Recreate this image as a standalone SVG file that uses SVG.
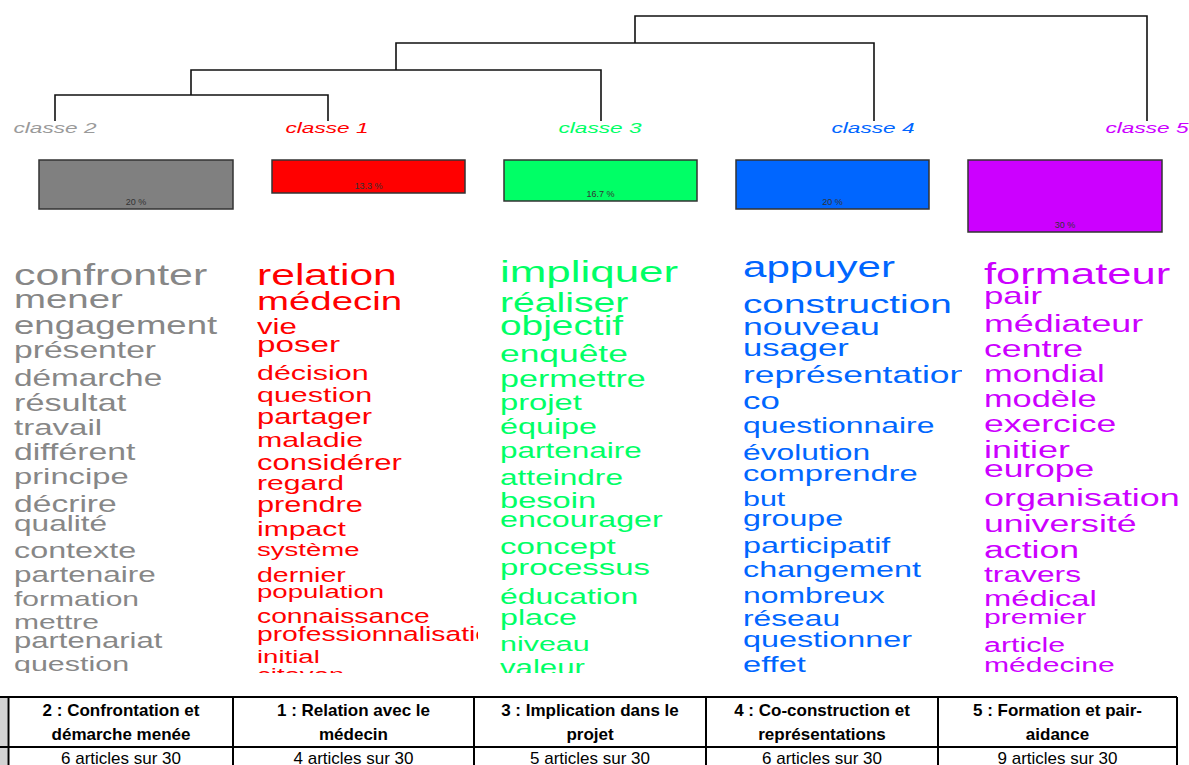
<svg xmlns="http://www.w3.org/2000/svg" width="1189" height="765" viewBox="0 0 1189 765">
<style>
.ln{stroke:#111;stroke-width:1.6;fill:none}
.cl{font-family:"Liberation Sans",Arial,sans-serif;font-style:italic;font-size:15px;text-anchor:middle}
.bar{stroke:#333;stroke-width:1.5}
.pct{font-family:"Liberation Sans",Arial,sans-serif;font-size:9px;fill:#333;text-anchor:middle}
.w{font-family:"Liberation Sans",Arial,sans-serif}
.tl{stroke:#000;stroke-width:2;fill:none}
.th{font-family:"Liberation Sans",Arial,sans-serif;font-weight:bold;font-size:17px;fill:#000;text-anchor:middle}
.td{font-family:"Liberation Sans",Arial,sans-serif;font-size:17px;fill:#000;text-anchor:middle}
</style>
<defs>
<clipPath id="c1"><rect x="0" y="245" width="245" height="428"/></clipPath>
<clipPath id="c2"><rect x="245" y="245" width="233" height="428"/></clipPath>
<clipPath id="c3"><rect x="490" y="245" width="240" height="428"/></clipPath>
<clipPath id="c4"><rect x="730" y="245" width="232" height="428"/></clipPath>
<clipPath id="c5"><rect x="970" y="245" width="219" height="428"/></clipPath>
</defs>
<rect width="1189" height="765" fill="#fff"/>

<g id="connectors">
<path class="ln" d="M635 43V16H1147V121"/>
<path class="ln" d="M396 70V43H874V121"/>
<path class="ln" d="M191 95V70H601V121"/>
<path class="ln" d="M55 121V95H328V121"/>
</g>

<g id="classe2"><text class="cl" x="55" y="133" fill="#9a9a9a" textLength="83" lengthAdjust="spacingAndGlyphs">classe 2</text></g>
<g id="classe1"><text class="cl" x="327" y="133" fill="#ff0000" textLength="83" lengthAdjust="spacingAndGlyphs">classe 1</text></g>
<g id="classe3"><text class="cl" x="600" y="133" fill="#00ff66" textLength="83" lengthAdjust="spacingAndGlyphs">classe 3</text></g>
<g id="classe4"><text class="cl" x="873" y="133" fill="#0066ff" textLength="83" lengthAdjust="spacingAndGlyphs">classe 4</text></g>
<g id="classe5"><text class="cl" x="1147" y="133" fill="#cc00ff" textLength="83" lengthAdjust="spacingAndGlyphs">classe 5</text></g>

<g id="bar2"><rect class="bar" x="39" y="160" width="194" height="49" fill="#808080"/><text class="pct" x="136" y="205">20 %</text></g>
<g id="bar1"><rect class="bar" x="272" y="160" width="193" height="33" fill="#ff0000"/><text class="pct" x="368.5" y="189">13.3 %</text></g>
<g id="bar3"><rect class="bar" x="504" y="160" width="193" height="41" fill="#00ff66"/><text class="pct" x="600.5" y="197">16.7 %</text></g>
<g id="bar4"><rect class="bar" x="736" y="160" width="193" height="49" fill="#0066ff"/><text class="pct" x="832.5" y="205">20 %</text></g>
<g id="bar5"><rect class="bar" x="968" y="160" width="194" height="72" fill="#cc00ff"/><text class="pct" x="1065" y="228">30 %</text></g>

<g id="words2" clip-path="url(#c1)">
<g transform="translate(14 0) scale(1.45 1)" class="w" fill="#878787">
<text y="285" font-size="29.6">confronter</text>
<text y="308" font-size="26.5">mener</text>
<text y="334" font-size="25.2">engagement</text>
<text y="358.5" font-size="23.2">présenter</text>
<text y="386" font-size="23">démarche</text>
<text y="411.5" font-size="23.6">résultat</text>
<text y="435" font-size="22.8">travail</text>
<text y="460.5" font-size="23.3">différent</text>
<text y="484" font-size="22.6">principe</text>
<text y="512" font-size="23.2">décrire</text>
<text y="531.5" font-size="21.8">qualité</text>
<text y="558.5" font-size="22.3">contexte</text>
<text y="582" font-size="21.7">partenaire</text>
<text y="606" font-size="20.7">formation</text>
<text y="629" font-size="20.7">mettre</text>
<text y="648.5" font-size="21.4">partenariat</text>
<text y="671" font-size="21">question</text>
</g></g>

<g id="words1" clip-path="url(#c2)">
<g transform="translate(257 0) scale(1.45 1)" class="w" fill="#ff0000">
<text y="285" font-size="29.4">relation</text>
<text y="310" font-size="26.5">médecin</text>
<text y="334" font-size="21.5">vie</text>
<text y="351.7" font-size="22.9">poser</text>
<text y="380" font-size="21">décision</text>
<text y="401.7" font-size="21">question</text>
<text y="424" font-size="21.3">partager</text>
<text y="446.7" font-size="20.9">maladie</text>
<text y="470" font-size="21.4">considérer</text>
<text y="490" font-size="20.8">regard</text>
<text y="511.7" font-size="21.2">prendre</text>
<text y="536" font-size="20.8">impact</text>
<text y="556" font-size="19">système</text>
<text y="581.7" font-size="19.7">dernier</text>
<text y="598.3" font-size="19">population</text>
<text y="622.7" font-size="19.5">connaissance</text>
<text y="640.7" font-size="19.5">professionnalisation</text>
<text y="663.3" font-size="19">initial</text>
<text y="681.5" font-size="19">citoyen</text>
</g></g>

<g id="words3" clip-path="url(#c3)">
<g transform="translate(500 0) scale(1.45 1)" class="w" fill="#00ff66">
<text y="281.7" font-size="30.3">impliquer</text>
<text y="311.7" font-size="27">réaliser</text>
<text y="335" font-size="26.8">objectif</text>
<text y="361.7" font-size="24.4">enquête</text>
<text y="386.7" font-size="23.5">permettre</text>
<text y="410.5" font-size="22.6">projet</text>
<text y="434.5" font-size="22.3">équipe</text>
<text y="458.3" font-size="21.7">partenaire</text>
<text y="485" font-size="21.8">atteindre</text>
<text y="508.3" font-size="22.5">besoin</text>
<text y="526.7" font-size="22.2">encourager</text>
<text y="554" font-size="22.8">concept</text>
<text y="575" font-size="22.7">processus</text>
<text y="604" font-size="22">éducation</text>
<text y="625.5" font-size="22.2">place</text>
<text y="651" font-size="21">niveau</text>
<text y="675" font-size="21.5">valeur</text>
</g></g>

<g id="words4" clip-path="url(#c4)">
<g transform="translate(743 0) scale(1.45 1)" class="w" fill="#0066ff">
<text y="277.5" font-size="29">appuyer</text>
<text y="312.7" font-size="26.7">construction</text>
<text y="335" font-size="24.6">nouveau</text>
<text y="356" font-size="23.9">usager</text>
<text y="383.5" font-size="24.4">représentation</text>
<text y="409.5" font-size="24">co</text>
<text y="433.5" font-size="22">questionnaire</text>
<text y="460" font-size="21.9">évolution</text>
<text y="480.7" font-size="22.6">comprendre</text>
<text y="506" font-size="21">but</text>
<text y="526" font-size="22.2">groupe</text>
<text y="552.7" font-size="22.3">participatif</text>
<text y="577" font-size="22.3">changement</text>
<text y="602.7" font-size="22">nombreux</text>
<text y="626" font-size="21.9">réseau</text>
<text y="647" font-size="22.3">questionner</text>
<text y="672.5" font-size="22.5">effet</text>
</g></g>

<g id="words5" clip-path="url(#c5)">
<g transform="translate(984 0) scale(1.45 1)" class="w" fill="#cc00ff">
<text y="284.3" font-size="30">formateur</text>
<text y="304.3" font-size="24">pair</text>
<text y="331.7" font-size="24.7">médiateur</text>
<text y="356.7" font-size="24.6">centre</text>
<text y="381.7" font-size="23.8">mondial</text>
<text y="406.7" font-size="23.7">modèle</text>
<text y="432.5" font-size="24.5">exercice</text>
<text y="458.3" font-size="24.8">initier</text>
<text y="476.7" font-size="24.4">europe</text>
<text y="506" font-size="24.8">organisation</text>
<text y="532.5" font-size="24.6">université</text>
<text y="558.3" font-size="24.6">action</text>
<text y="581.7" font-size="21.9">travers</text>
<text y="606" font-size="22.6">médical</text>
<text y="624.5" font-size="20.8">premier</text>
<text y="652" font-size="21">article</text>
<text y="672" font-size="20.8">médecine</text>
</g></g>

<g id="table">
<rect x="0" y="698" width="7.5" height="48" fill="#d3d3d3"/>
<rect x="0" y="748" width="7.5" height="17" fill="#d3d3d3"/>
<path class="tl" d="M0 697H1177M0 747H1177M8.5 697V765M233 697V765M474 697V765M706 697V765M938 697V765M1177 697V765"/>
<text class="th" x="121" y="716">2 : Confrontation et</text>
<text class="th" x="121" y="740">démarche menée</text>
<text class="th" x="353.5" y="716">1 : Relation avec le</text>
<text class="th" x="353.5" y="740">médecin</text>
<text class="th" x="590" y="716">3 : Implication dans le</text>
<text class="th" x="590" y="740">projet</text>
<text class="th" x="822" y="716">4 : Co-construction et</text>
<text class="th" x="822" y="740">représentations</text>
<text class="th" x="1057.5" y="716">5 : Formation et pair-</text>
<text class="th" x="1057.5" y="740">aidance</text>
<text class="td" x="121" y="763.5">6 articles sur 30</text>
<text class="td" x="353.5" y="763.5">4 articles sur 30</text>
<text class="td" x="590" y="763.5">5 articles sur 30</text>
<text class="td" x="822" y="763.5">6 articles sur 30</text>
<text class="td" x="1057.5" y="763.5">9 articles sur 30</text>
</g>
</svg>
